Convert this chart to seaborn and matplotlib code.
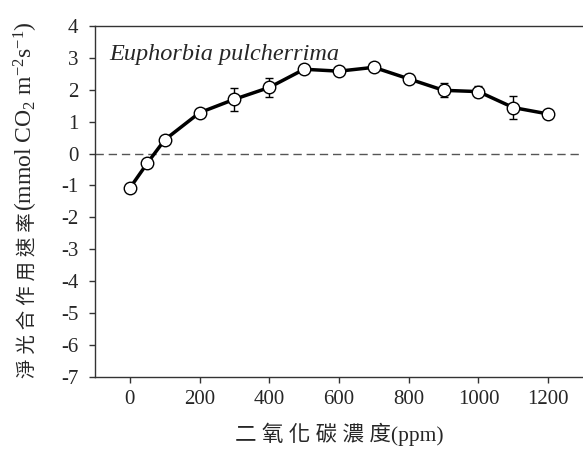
import numpy as np
import pandas as pd
import matplotlib
matplotlib.use("Agg")
import matplotlib.pyplot as plt
import seaborn as sns

# CO2 concentration (ppm) and net photosynthesis rate
co2_ppm = [0, 50, 100, 200, 300, 400, 500, 600, 700, 800, 900, 1000, 1100, 1200]
net_rate = [-1.08, -0.30, 0.43, 1.28, 1.70, 2.07, 2.64, 2.58, 2.70, 2.34, 1.98, 1.94, 1.44, 1.24]
rate_err = [0.05, 0.05, 0.05, 0.05, 0.36, 0.29, 0.05, 0.05, 0.10, 0.14, 0.22, 0.17, 0.37, 0.10]

y_ticks = list(range(-7, 5))
x_ticks = [0, 200, 400, 600, 800, 1000, 1200]

df = pd.DataFrame({"co2": co2_ppm, "rate": net_rate, "err": rate_err})

sns.set_style("ticks")
plt.rcParams["font.family"] = ["Liberation Serif", "Noto Sans CJK TC"]
plt.rcParams["mathtext.fontset"] = "custom"
plt.rcParams["mathtext.rm"] = "Liberation Serif"
plt.rcParams["mathtext.it"] = "Liberation Serif:italic"
plt.rcParams["axes.unicode_minus"] = False

fig = plt.figure(figsize=(5.83, 4.61), dpi=100)
ax = fig.add_axes([0.163, 0.182, 0.837, 0.762])

ax.axhline(0, color="#555555", lw=1, ls=(0, (6, 3.5)), zorder=1)
ax.errorbar(df["co2"], df["rate"], yerr=df["err"], fmt="none",
            ecolor="black", elinewidth=1, capsize=3, capthick=1, zorder=2)
sns.lineplot(data=df, x="co2", y="rate", ax=ax, color="black", lw=2.5,
             marker="o", markersize=9, markerfacecolor="white",
             markeredgecolor="black", markeredgewidth=1, zorder=3)

ax.set_xlim(-100, 1300)
ax.set_ylim(-7, 4)
ax.set_xticks(x_ticks)
ax.set_yticks(y_ticks)
ax.tick_params(labelsize=15, length=4, width=1, color="#333333", direction="out")
ax.tick_params(axis="y", pad=8)
ax.tick_params(axis="x", pad=5)

ax.spines["right"].set_visible(False)
for s in ["left", "bottom", "top"]:
    ax.spines[s].set_color("#333333")
    ax.spines[s].set_linewidth(1)

ax.set_xlabel("二 氧 化 碳 濃 度(ppm)", fontsize=15.5, labelpad=10)
ax.set_ylabel("")

ax.text(-60, 2.93, "Euphorbia pulcherrima", fontsize=17.5, style="italic",
        family="Liberation Serif", va="baseline")

# y label: CJK part and math part drawn as two texts on one baseline
W, H = fig.get_size_inches() * fig.dpi
base_x = 33 / W
t1 = fig.text(base_x, (H - 378) / H, "淨 光 合 作 用 速 率", fontsize=14, rotation=90,
              rotation_mode="anchor", ha="left", va="baseline")
t2 = fig.text(base_x, 0, "(mmol CO$_2$ m$^{-2}$s$^{-1}$)", fontsize=17, rotation=90,
              rotation_mode="anchor", ha="left", va="baseline")
fig.canvas.draw()
r = fig.canvas.get_renderer()
l1 = t1.get_window_extent(r).height
t2.set_y((H - 378 + l1 + 1) / H)

fig.savefig("out.png", dpi=100)
